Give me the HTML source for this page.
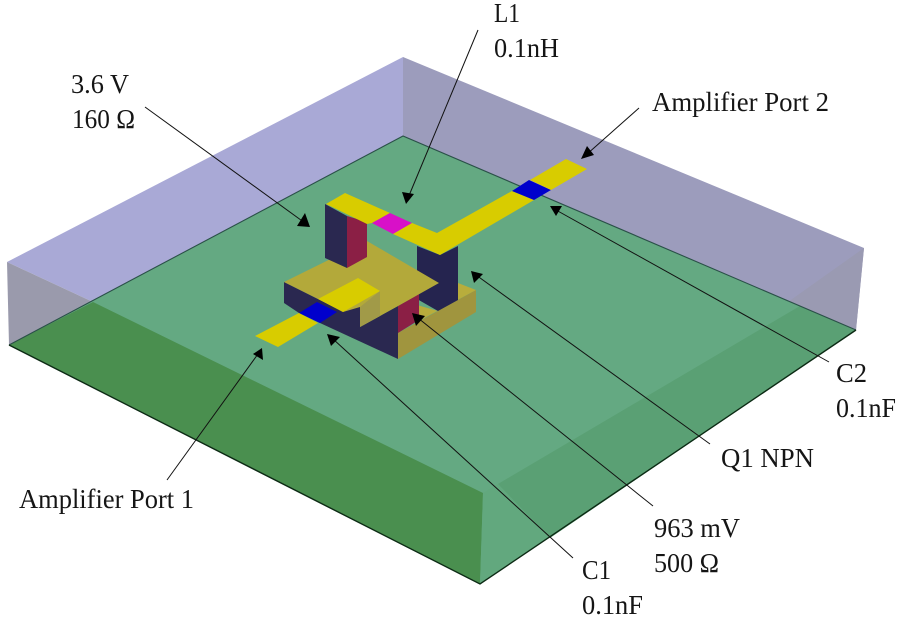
<!DOCTYPE html>
<html><head><meta charset="utf-8"><style>
html,body{margin:0;padding:0;background:#fff;width:900px;height:620px;overflow:hidden}
svg{display:block}
text{font-family:"Liberation Serif",serif;font-size:27px;fill:#151515}
</style></head><body>
<svg width="900" height="620" viewBox="0 0 900 620" xmlns="http://www.w3.org/2000/svg">
<polygon points="7,262 403,57 403,136 93,302" fill="#a9a9d6"/>
<polygon points="403,57 864,248 856,330 403,136" fill="#9c9cbc"/>
<polygon points="7,262 93,302 9,345" fill="#9a9aac"/>
<polygon points="864,248 856,330 788,302" fill="#9a9ab2"/>
<polygon points="9,345 403,136 856,330 480,584" fill="#64a982"/>
<polygon points="9,345 93,302 483,493 480,584" fill="#4a8f4f"/>
<polygon points="483,493 480,584 856,330 800,306" fill="#62a87e"/>
<polygon points="498,484 550,538 856,330 800,306" fill="#5aa074"/>
<polyline points="9,345 403,136 856,330" fill="none" stroke="#2a5048" stroke-width="1.1"/>
<polyline points="9,345 480,584 856,330" fill="none" stroke="#0c2a14" stroke-width="1.4"/>

<polygon points="398,333 476,290 476,312 398,359" fill="#a0953e"/>
<polygon points="417,305 438,311 458,300 458,283 476,290 417,322" fill="#b8ad3c"/>
<polygon points="417,246 440,255 458,246 458,300 438,311 417,299" fill="#25244f"/>
<polygon points="284,282 284,303 299,313 320,323 398,359 398,306 360,327 360,307 318,299" fill="#2a2850"/>
<polygon points="398,306 419,294 419,320 398,333" fill="#8b1f45"/>
<polygon points="284,282 367,241 439,283 398,306 360,327 360,307 343,312 318,299" fill="#b3a93a"/>
<polygon points="360,307 380,291 380,316 360,327" fill="#a19a48"/>
<polygon points="325,204 347,216 347,268 325,258" fill="#2a2850"/>
<polygon points="347,216 367,222 367,257 347,268" fill="#8b1f45"/>
<polygon points="326,204 345,193 390,213 372,223 367,224" fill="#d8cc00"/>
<polygon points="372,223 390,213 412,223 393,234" fill="#d810c8"/>
<polygon points="412,223 437,233 512,191 534,200 440,255 393,234" fill="#d8cc00"/>
<polygon points="512,191 529,180 551,190 534,200" fill="#0000cc"/>
<polygon points="530,180 566,159 587,169 551,190" fill="#d8cc00"/>
<polygon points="318,299 358,278 380,291 343,312" fill="#d8cc00"/>
<polygon points="299,313 317,302 337,312 320,323" fill="#0000cc"/>
<polygon points="255,336 299,313 318,323 278,347" fill="#d8cc00"/>

<g stroke="#111" stroke-width="1" fill="none">
<line x1="145" y1="107" x2="305" y2="223"/>
<line x1="478" y1="30" x2="408" y2="198"/>
<line x1="639" y1="108" x2="586" y2="155"/>
<line x1="829" y1="362" x2="556" y2="210"/>
<line x1="710" y1="444" x2="476" y2="275"/>
<line x1="653" y1="506" x2="418" y2="318"/>
<line x1="573" y1="558" x2="333" y2="339"/>
<line x1="167" y1="480" x2="258" y2="354"/>
</g>
<g fill="#000">
<polygon points="310,227 297,226 305,213"/>
<polygon points="406,204 402,192 414,194"/>
<polygon points="581,159 587,146 594,155"/>
<polygon points="550,206 562,206 556,216"/>
<polygon points="471,271 483,274 474,283"/>
<polygon points="412,313 425,316 416,326"/>
<polygon points="327,334 340,337 331,346"/>
<polygon points="262,348 263,360 253,354"/>
</g>

<text x="494" y="22" textLength="26" lengthAdjust="spacingAndGlyphs">L1</text>
<text x="494" y="57" textLength="65" lengthAdjust="spacingAndGlyphs">0.1nH</text>
<text x="71" y="93" textLength="58" lengthAdjust="spacingAndGlyphs">3.6 V</text>
<text x="72" y="128" textLength="63" lengthAdjust="spacingAndGlyphs">160 Ω</text>
<text x="652" y="111" textLength="177" lengthAdjust="spacingAndGlyphs">Amplifier Port 2</text>
<text x="19" y="508" textLength="175" lengthAdjust="spacingAndGlyphs">Amplifier Port 1</text>
<text x="836" y="382" textLength="31" lengthAdjust="spacingAndGlyphs">C2</text>
<text x="836" y="417" textLength="60" lengthAdjust="spacingAndGlyphs">0.1nF</text>
<text x="721" y="467" textLength="93" lengthAdjust="spacingAndGlyphs">Q1 NPN</text>
<text x="654" y="537" textLength="86" lengthAdjust="spacingAndGlyphs">963 mV</text>
<text x="654" y="572" textLength="65" lengthAdjust="spacingAndGlyphs">500 Ω</text>
<text x="582" y="579" textLength="29" lengthAdjust="spacingAndGlyphs">C1</text>
<text x="582" y="614" textLength="61" lengthAdjust="spacingAndGlyphs">0.1nF</text>
</svg>
</body></html>
